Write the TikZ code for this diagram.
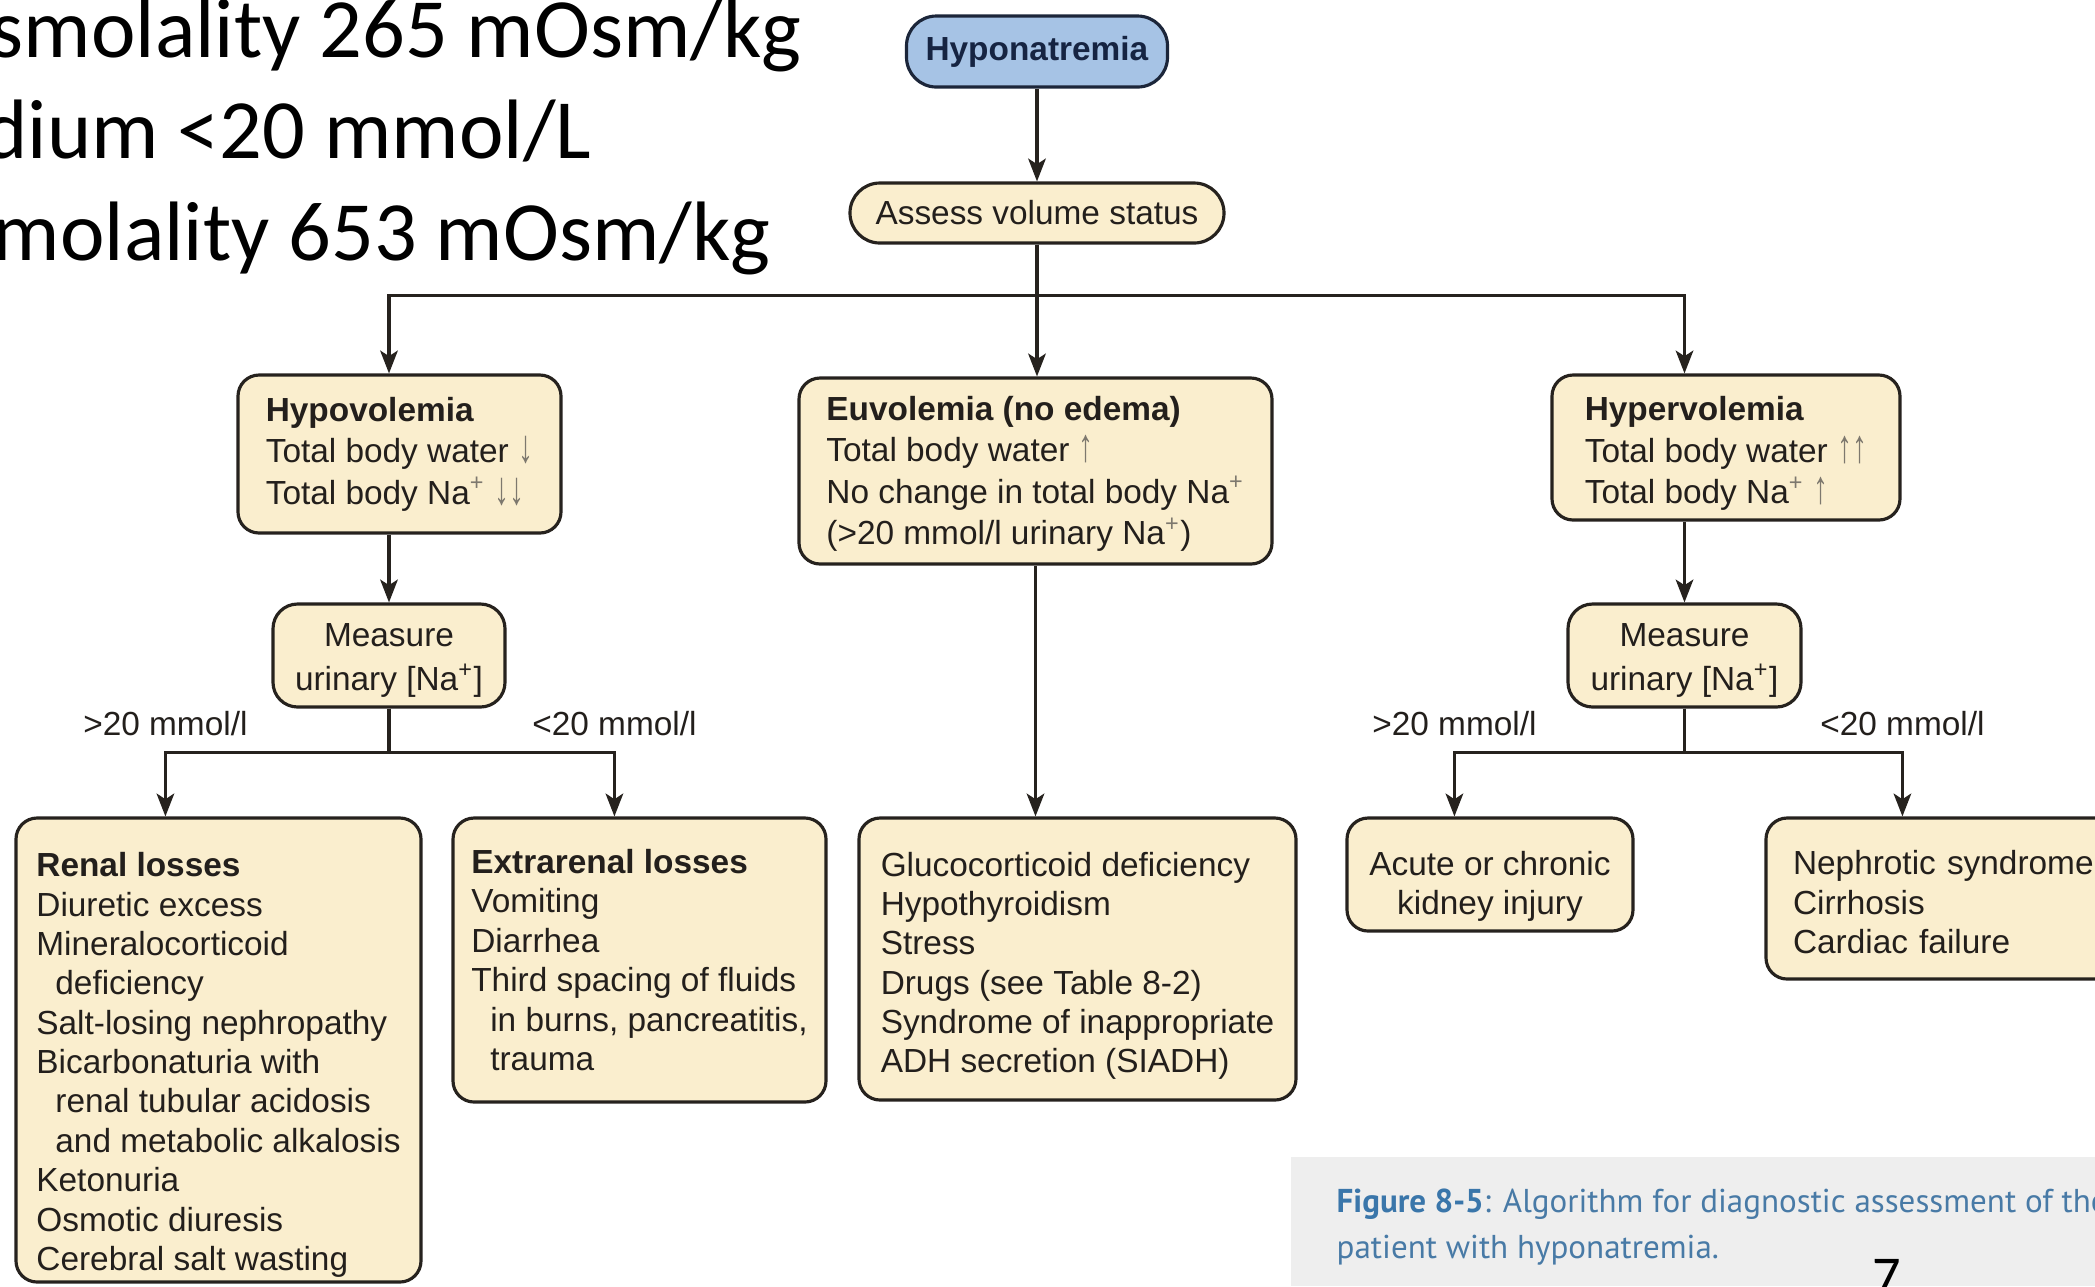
\documentclass[tikz,border=0pt]{standalone}
\usepackage{fontspec}
\setmainfont{Liberation Sans}
\newfontfamily\slidefont{Carlito}
\newfontfamily\captionfont{PT Sans}
\usepackage{graphicx}
\usepackage{tikz}
\usetikzlibrary{arrows.meta}

\definecolor{boxfill}{RGB}{250,238,206}
\definecolor{boxline}{RGB}{38,34,30}
\definecolor{textdark}{RGB}{35,31,28}
\definecolor{headfill}{RGB}{166,195,229}
\definecolor{headline}{RGB}{28,38,58}
\definecolor{headtext}{RGB}{22,36,66}
\definecolor{arrowgray}{RGB}{125,120,110}
\definecolor{capgray}{RGB}{238,238,238}
\definecolor{capblue}{RGB}{58,118,170}
\definecolor{captext}{RGB}{72,122,166}

\newcommand{\arrdn}{{\color{arrowgray}\scalebox{0.9}[1.4]{↓}}}
\newcommand{\arrup}{{\color{arrowgray}\scalebox{0.9}[1.4]{↑}}}
\newcommand{\nap}{Na\textsuperscript{\color{arrowgray}+}}
\newcommand{\ind}{\hspace*{0.19cm}}
\newcommand{\topgap}[1]{\rule{0pt}{#1}}

\begin{document}
\begin{tikzpicture}[
  >={Stealth[length=6.5pt,width=5pt,inset=1.6pt]},
  box/.style={draw=boxline, fill=boxfill, line width=0.9pt, rounded corners=6pt, inner sep=0pt, align=left, text=textdark, font=\fontsize{9.5}{11.2}\selectfont},
  upbox/.style={box, font=\fontsize{9.5}{11.8}\selectfont},
  measbox/.style={box, align=center, rounded corners=7pt, font=\fontsize{9.5}{12.5}\selectfont},
  pillbox/.style={box, align=center, rounded corners=8.5pt},
  headbox/.style={pillbox, draw=headline, fill=headfill, text=headtext},
  link/.style={->, draw=boxline, line width=0.9pt},
  cut/.style={above=1pt, text=textdark, font=\fontsize{9.5}{11.2}\selectfont},
  slide/.style={anchor=base east, inner sep=0pt, font=\slidefont\fontsize{24}{28}\selectfont}
]
\useasboundingbox (0,0) rectangle (20.95,-12.86);
\clip (0,0) rectangle (20.95,-12.86);

\node[slide] at (8.02,-0.57) (line1){smolality 265 mOsm/kg};
\node[slide] at (5.92,-1.58) (line2){dium <20 mmol/L};
\node[slide] at (7.71,-2.60) (line3){molality 653 mOsm/kg};

\node[headbox, minimum width=2.61cm, minimum height=0.71cm] at (10.37,-0.515) (head){\textbf{Hyponatremia}};
\node[pillbox, minimum width=3.74cm, minimum height=0.60cm] at (10.37,-2.13) (assess){Assess volume status};

\node[upbox, minimum width=3.23cm, minimum height=1.58cm] at (3.995,-4.54) (hypo){\textbf{Hypovolemia}\\Total body water \arrdn\\Total body \nap\ \arrdn\arrdn};
\node[upbox, minimum width=4.73cm, minimum height=1.86cm] at (10.355,-4.71) (euvo){\topgap{0.3cm}\textbf{Euvolemia (no edema)}\\Total body water \arrup\\No change in total body \nap\\(>20 mmol/l urinary \nap)};
\node[upbox, minimum width=3.48cm, minimum height=1.45cm] at (17.26,-4.475) (hyper){\topgap{0.36cm}\textbf{Hypervolemia}\\Total body water \arrup\arrup\\Total body \nap\ \arrup};

\node[measbox, minimum width=2.32cm, minimum height=1.03cm] at (3.89,-6.555) (meas1){\topgap{0.33cm}Measure\\urinary [Na\textsuperscript{+}]};
\node[measbox, minimum width=2.33cm, minimum height=1.03cm] at (16.845,-6.555) (meas2){\topgap{0.33cm}Measure\\urinary [Na\textsuperscript{+}]};

\node[box, minimum width=4.05cm, minimum height=4.64cm] at (2.185,-10.5) (renal){\topgap{0.54cm}\textbf{Renal losses}\\Diuretic excess\\Mineralocorticoid\\\ind deficiency\\Salt-losing nephropathy\\Bicarbonaturia with\\\ind renal tubular acidosis\\\ind and metabolic alkalosis\\Ketonuria\\Osmotic diuresis\\Cerebral salt wasting};
\node[box, minimum width=3.73cm, minimum height=2.84cm] at (6.395,-9.6) (extra){\textbf{Extrarenal losses}\\Vomiting\\Diarrhea\\Third spacing of fluids\\\ind in burns, pancreatitis,\\\ind trauma};
\node[box, minimum width=4.37cm, minimum height=2.82cm] at (10.775,-9.59) (euvores){\topgap{0.38cm}Glucocorticoid deficiency\\Hypothyroidism\\Stress\\Drugs (see Table 8-2)\\Syndrome of inappropriate\\ADH secretion (SIADH)};
\node[box, align=center, minimum width=2.86cm, minimum height=1.13cm] at (14.9,-8.745) (aki){\topgap{0.48cm}Acute or chronic\\kidney injury};
\node[box, text width=3.3cm, inner xsep=0.27cm, minimum height=1.61cm] at (19.58,-8.985) (nephro){\topgap{0.32cm}Nephrotic syndrome\\Cirrhosis\\Cardiac failure};

\draw[link] (head) -- (assess);
\draw[link] (assess.south) -- (assess.south |- euvo.north);
\draw[link] (assess.south) -- ++(0,-0.51) -| (meas1.north |- hypo.north);
\draw[link] (assess.south) -- ++(0,-0.51) -| (meas2.north |- hyper.north);
\draw[link] (hypo.south -| meas1.north) -- (meas1);
\draw[link] (hyper.south -| meas2.north) -- (meas2);
\draw[link] (euvo.south) -- (euvo.south |- euvores.north);
\draw[link] (meas1.south) -- ++(0,-0.44) -| node[cut] {>20 mmol/l} ([xshift=1.51cm]renal.north west);
\draw[link] (meas1.south) -- ++(0,-0.44) -| node[cut] {<20 mmol/l} ([xshift=1.63cm]extra.north west);
\draw[link] (meas2.south) -- ++(0,-0.44) -| node[cut] {>20 mmol/l} ([xshift=1.09cm]aki.north west);
\draw[link] (meas2.south) -- ++(0,-0.44) -| node[cut] {<20 mmol/l} ([xshift=1.38cm]nephro.north west);

\fill[capgray] (12.91,-11.57) rectangle (20.95,-12.86);
\node[anchor=base west, inner sep=0pt, text=captext, font=\captionfont\fontsize{9.4}{12}\selectfont] at (13.36,-12.12) (cap1){\textcolor{capblue}{\textbf{Figure 8-5}}: Algorithm for diagnostic assessment of the};
\node[anchor=base west, inner sep=0pt, text=captext, font=\captionfont\fontsize{9.4}{12}\selectfont] at (13.36,-12.58) (cap2){patient with hyponatremia.};
\node[anchor=base, inner sep=0pt, font=\slidefont\fontsize{16}{18}\selectfont] at (18.87,-12.95) (page){7};
\end{tikzpicture}
\end{document}
